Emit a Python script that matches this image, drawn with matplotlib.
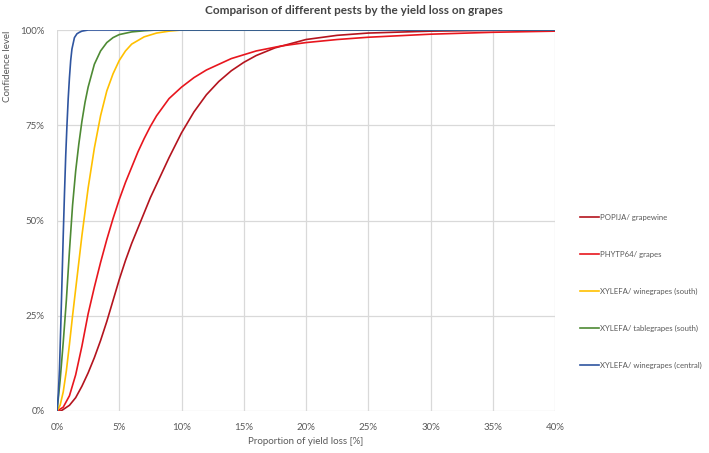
import matplotlib.pyplot as plt
from matplotlib.ticker import FuncFormatter

plt.rcParams['font.family'] = ['Lato', 'DejaVu Sans']

# Data (x = % kehilangan hasil, y = % tahap keyakinan)
popija_x = [0, 0.3, 0.5, 1, 1.5, 2, 2.5, 3, 3.5, 4, 4.5, 5, 5.5, 6, 6.5, 7, 7.5, 8, 9, 10,
            11, 12, 13, 14, 15, 16, 17.5, 20, 22.5, 25, 30, 35, 40]
popija_y = [0, 0, 0.4, 1.5, 3.5, 6.5, 10, 14, 18.5, 23.5, 29, 34.5, 39.5, 44, 48, 52, 56,
            59.5, 66.5, 73, 78.5, 83, 86.5, 89.3, 91.5, 93.3, 95.3, 97.5, 98.6, 99.2, 99.7,
            99.9, 100]

phytp_x = [0, 0.5, 1, 1.5, 2, 2.5, 3, 3.5, 4, 4.5, 5, 5.5, 6, 6.5, 7, 7.5, 8, 9, 10, 11, 12,
           14, 16, 18, 20, 22.5, 25, 30, 35, 40]
phytp_y = [0, 1, 4, 9.5, 17, 25.5, 32.5, 39, 45, 50.5, 55.5, 60, 64, 68, 71.5, 74.7, 77.5,
           82, 85, 87.5, 89.5, 92.5, 94.5, 95.8, 96.7, 97.5, 98.1, 98.9, 99.4, 99.7]

wine_south_x = [0, 0.25, 0.5, 0.75, 1.0, 1.25, 1.5, 1.75, 2.0, 2.5, 3.0, 3.5, 4.0, 4.5, 5.0,
                5.5, 6, 7, 8, 9, 10, 40]
wine_south_y = [0, 1.5, 5, 10.5, 17.5, 25, 32, 39, 46, 58.5, 69, 77.5, 84, 88.5, 92, 94.5,
                96.3, 98.2, 99.2, 99.7, 100, 100]

table_south_x = [0, 0.25, 0.5, 0.75, 1.0, 1.25, 1.5, 1.75, 2.0, 2.25, 2.5, 3.0, 3.5, 4.0,
                 4.5, 5, 6, 7, 8, 10, 40]
table_south_y = [0, 8, 18, 29, 42, 54, 63, 70, 76, 81, 85, 91, 94.5, 96.7, 98, 98.8, 99.5,
                 99.8, 100, 100, 100]

wine_central_x = [0, 0.1, 0.2, 0.3, 0.4, 0.5, 0.6, 0.7, 0.8, 0.9, 1.0, 1.1, 1.2, 1.4, 1.6,
                  1.8, 2.0, 2.5, 3, 40]
wine_central_y = [0, 4, 11, 22, 34, 46, 57, 67, 75, 82, 87.5, 92, 95, 98, 99, 99.4, 99.7,
                  100, 100, 100]

series = [
    ("POPIJA/ grapewine", popija_x, popija_y, '#B4141E'),
    ("PHYTP64/ grapes", phytp_x, phytp_y, '#E8161E'),
    ("XYLEFA/ winegrapes (south)", wine_south_x, wine_south_y, '#FFC000'),
    ("XYLEFA/ tablegrapes (south)", table_south_x, table_south_y, '#4E8A34'),
    ("XYLEFA/ winegrapes (central)", wine_central_x, wine_central_y, '#2F55A0'),
]

fig = plt.figure(figsize=(7.09, 4.53), dpi=100)
ax = fig.add_axes([57 / 709, 1 - 411 / 453, 498 / 709, 381 / 453])

for label, xs, ys, col in series:
    ax.plot(xs, ys, color=col, linewidth=1.2, label=label)

ax.set_xlim(0, 40)
ax.set_ylim(0, 100)
ax.set_xticks(range(0, 41, 5))
ax.set_yticks([0, 25, 50, 75, 100])
ax.xaxis.set_major_formatter(FuncFormatter(lambda v, p: f"{v:.0f}%"))
ax.yaxis.set_major_formatter(FuncFormatter(lambda v, p: f"{v:.0f}%"))
ax.tick_params(length=0, labelsize=7, labelcolor='#595959')
ax.tick_params(axis='x', pad=9)
ax.tick_params(axis='y', pad=9)
ax.grid(True, color='#D9D9D9', linewidth=0.9)
ax.set_axisbelow(True)
for s in ax.spines.values():
    s.set_visible(False)

fig.text(354 / 709, 1 - 11 / 453, "Comparison of different pests by the yield loss on grapes",
         ha='center', va='center', fontsize=8.5, fontweight='bold', color='#444444')
fig.text(306 / 709, 1 - 441 / 453, "Proportion of yield loss [%]",
         ha='center', va='center', fontsize=7, color='#595959')
fig.text(8 / 709, 1 - 66 / 453, "Confidence level", rotation=90,
         ha='center', va='center', fontsize=7, color='#595959')

leg = fig.legend(loc='upper left', bbox_to_anchor=(580 / 709, 1 - 214 / 453), frameon=False,
                 fontsize=5.6, labelspacing=3.85, handlelength=2.45, handletextpad=0.15,
                 borderaxespad=0, borderpad=0)
for t in leg.get_texts():
    t.set_color('#595959')

plt.savefig("out.png", dpi=100)
plt.close()
